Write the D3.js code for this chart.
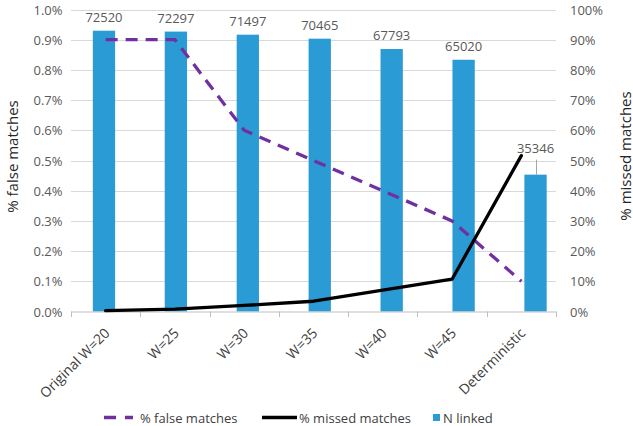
<!DOCTYPE html>
<html>
<head>
<meta charset="utf-8">
<script src="https://cdn.jsdelivr.net/npm/d3@7"></script>
<style>
  html, body { margin: 0; padding: 0; background: #fff; }
  svg { display: block; font-family: "Open Sans", "DejaVu Sans", sans-serif; }
</style>
</head>
<body>
<svg id="chart" width="633" height="426"></svg>
<script>
// ---- data ----
const categories = ["Original W=20", "W=25", "W=30", "W=35", "W=40", "W=45", "Deterministic"];
const nLinked = [72520, 72297, 71497, 70465, 67793, 65020, 35346];
const falseMatches = [0.9, 0.9, 0.6, 0.5, 0.4, 0.3, 0.1];      // % (left axis)
const missedMatches = [0.3, 0.8, 2.0, 3.4, 7.1, 10.7, 51.6];   // % (right axis)
const leftTicks = [0, 0.1, 0.2, 0.3, 0.4, 0.5, 0.6, 0.7, 0.8, 0.9, 1.0];
const rightTicks = [0, 10, 20, 30, 40, 50, 60, 70, 80, 90, 100];
const seriesNames = ["% false matches", "% missed matches", "N linked"];

// ---- layout ----
const svg = d3.select("#chart");
const plotL = 71, plotR = 556, plotT = 9.5, plotB = 311.5;
const barColor = "#2B9BD5", dashColor = "#7030A0", lineColor = "#000000";
const gridColor = "#D9D9D9", axisColor = "#BFBFBF";
const tickText = "#595959", labelText = "#404040";

const xAxis = d3.scaleBand().domain(categories).range([plotL, plotR]);
const xLine = d3.scalePoint().domain(categories).range([plotL, plotR]).padding(0.5);
const xBar = d3.scaleBand().domain(categories).range([68, 571.5]).paddingInner(0.69).paddingOuter(0.345);
const yLeft = d3.scaleLinear().domain([0, 1.0]).range([plotB, plotT]);
const yRight = d3.scaleLinear().domain([0, 100]).range([plotB, plotT]);
const yBar = d3.scaleLinear().domain([0, 78000]).range([plotB, plotT]);

// gridlines
svg.append("g").selectAll("line").data(leftTicks.slice(1)).join("line")
  .attr("x1", plotL).attr("x2", plotR)
  .attr("y1", d => Math.round(yLeft(d)) + 0.5).attr("y2", d => Math.round(yLeft(d)) + 0.5)
  .attr("stroke", gridColor).attr("stroke-width", 1);

// left axis labels
svg.append("g").selectAll("text").data(leftTicks).join("text")
  .attr("x", 62.5).attr("y", d => yLeft(d))
  .attr("text-anchor", "end").attr("dominant-baseline", "central")
  .attr("font-size", 13).attr("fill", tickText)
  .text(d => d.toFixed(1) + "%");

// right axis labels
svg.append("g").selectAll("text").data(rightTicks).join("text")
  .attr("x", 570).attr("y", d => yRight(d))
  .attr("text-anchor", "start").attr("dominant-baseline", "central")
  .attr("font-size", 13).attr("fill", tickText)
  .text(d => d + "%");

// bars
svg.append("g").selectAll("rect").data(categories).join("rect")
  .attr("x", d => xBar(d)).attr("width", xBar.bandwidth())
  .attr("y", (d, i) => yBar(nLinked[i]))
  .attr("height", (d, i) => plotB - yBar(nLinked[i]))
  .attr("fill", barColor);

// x axis line + ticks
const xg = svg.append("g");
xg.append("line").attr("x1", plotL).attr("x2", plotR)
  .attr("y1", plotB + 0.5).attr("y2", plotB + 0.5)
  .attr("stroke", axisColor).attr("stroke-width", 1);
const boundaries = categories.map(c => xAxis(c)).concat([xAxis(categories[categories.length - 1]) + xAxis.bandwidth()]);
xg.selectAll("line.tick").data(boundaries).join("line").attr("class", "tick")
  .attr("x1", d => Math.round(d) + 0.5).attr("x2", d => Math.round(d) + 0.5)
  .attr("y1", plotB).attr("y2", plotB + 5.5)
  .attr("stroke", axisColor).attr("stroke-width", 1);

// category labels
xg.selectAll("text").data(categories).join("text")
  .attr("transform", d => `translate(${xLine(d) + 5},334) rotate(-45)`)
  .attr("text-anchor", "end")
  .attr("font-size", 14).attr("fill", labelText)
  .text(d => d);

// dashed false matches line
const lineFalse = d3.line().x((d, i) => xLine(categories[i])).y(d => yLeft(d));
svg.append("path").datum(falseMatches)
  .attr("d", lineFalse).attr("fill", "none")
  .attr("stroke", dashColor).attr("stroke-width", 3.3)
  .attr("stroke-dasharray", "12,8").attr("stroke-linejoin", "round");

// missed matches line
const lineMissed = d3.line().x((d, i) => xLine(categories[i])).y(d => yRight(d));
svg.append("path").datum(missedMatches)
  .attr("d", lineMissed).attr("fill", "none")
  .attr("stroke", lineColor).attr("stroke-width", 3.3)
  .attr("stroke-linejoin", "round").attr("stroke-linecap", "round");

// data labels
const lg = svg.append("g");
categories.forEach((c, i) => {
  const cx = xBar(c) + xBar.bandwidth() / 2;
  const top = yBar(nLinked[i]);
  const last = i === categories.length - 1;
  const by = last ? top - 22 : top - 9;
  lg.append("text").attr("x", cx).attr("y", by)
    .attr("text-anchor", "middle").attr("font-size", 13).attr("fill", tickText)
    .text(nLinked[i]);
  if (last) {
    lg.append("line").attr("x1", Math.round(cx) + 0.5).attr("x2", Math.round(cx) + 0.5)
      .attr("y1", by + 7).attr("y2", top)
      .attr("stroke", "#A6A6A6").attr("stroke-width", 1);
  }
});

// axis titles
svg.append("text").attr("transform", "translate(11.5,156.5) rotate(-90)")
  .attr("text-anchor", "middle").attr("dominant-baseline", "central")
  .attr("font-size", 15).attr("fill", "#262626").text("% false matches");
svg.append("text").attr("transform", "translate(624.5,156) rotate(-90)")
  .attr("text-anchor", "middle").attr("dominant-baseline", "central")
  .attr("font-size", 15).attr("fill", "#262626").text("% missed matches");

// legend
const leg = svg.append("g");
const ly = 417.5;
leg.append("line").attr("x1", 104).attr("x2", 133).attr("y1", ly).attr("y2", ly)
  .attr("stroke", dashColor).attr("stroke-width", 3.3).attr("stroke-dasharray", "12,9");
leg.append("text").attr("x", 140).attr("y", ly).attr("dominant-baseline", "central")
  .attr("font-size", 13).attr("fill", labelText).text(seriesNames[0]);
leg.append("line").attr("x1", 262).attr("x2", 297).attr("y1", ly).attr("y2", ly)
  .attr("stroke", lineColor).attr("stroke-width", 3.3);
leg.append("text").attr("x", 299).attr("y", ly).attr("dominant-baseline", "central")
  .attr("font-size", 13).attr("fill", labelText).text(seriesNames[1]);
leg.append("rect").attr("x", 433).attr("y", ly - 3.5).attr("width", 7).attr("height", 7)
  .attr("fill", barColor);
leg.append("text").attr("x", 443).attr("y", ly).attr("dominant-baseline", "central")
  .attr("font-size", 13).attr("fill", labelText).text(seriesNames[2]);
</script>
</body>
</html>
